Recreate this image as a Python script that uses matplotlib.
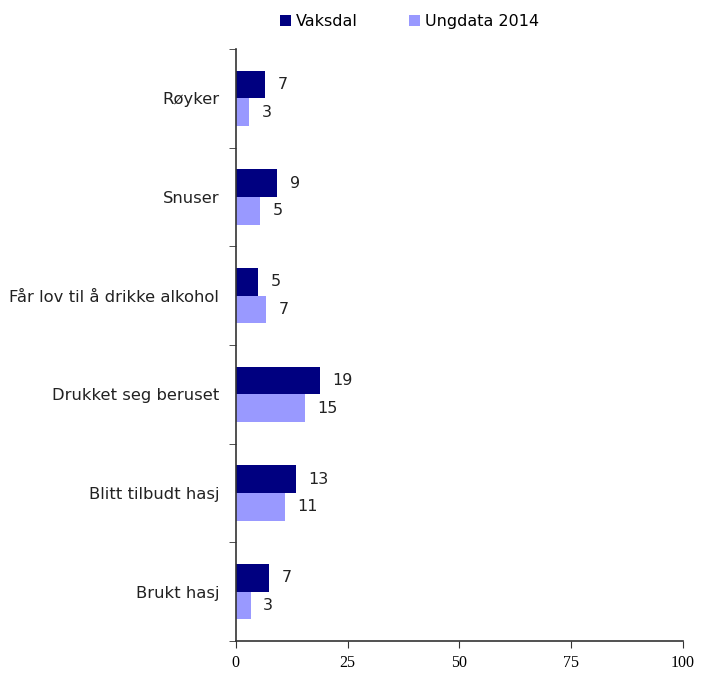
import matplotlib
matplotlib.use("Agg")
import matplotlib.pyplot as plt
import numpy as np

categories = ["Røyker", "Snuser", "Får lov til å drikke alkohol",
              "Drukket seg beruset", "Blitt tilbudt hasj", "Brukt hasj"]
vaksdal = [6.6, 9.2, 4.9, 18.8, 13.4, 7.4]
ungdata = [3.0, 5.4, 6.7, 15.4, 10.9, 3.3]
vaksdal_labels = ["7", "9", "5", "19", "13", "7"]
ungdata_labels = ["3", "5", "7", "15", "11", "3"]
xticks = [0, 25, 50, 75, 100]

dark = "#000080"
light = "#9999ff"

fig = plt.figure(figsize=(7.02, 6.73), dpi=100)
ax = fig.add_axes([0.336, 0.0475, 0.637, 0.8795])

y = np.arange(len(categories))
h = 0.28
ax.barh(y - h/2, vaksdal, height=h, color=dark, label="Vaksdal")
ax.barh(y + h/2, ungdata, height=h, color=light, label="Ungdata 2014")

for i in range(len(categories)):
    ax.annotate(vaksdal_labels[i], (vaksdal[i], y[i] - h/2), xytext=(9, 0),
                textcoords="offset points", va="center", ha="left", fontsize=11.5, color="#222222")
    ax.annotate(ungdata_labels[i], (ungdata[i], y[i] + h/2), xytext=(9, 0),
                textcoords="offset points", va="center", ha="left", fontsize=11.5, color="#222222")

ax.set_xlim(0, 100)
ax.set_ylim(len(categories) - 0.5, -0.5)
ax.set_xticks(xticks)
ax.set_xticklabels([str(t) for t in xticks], family="Liberation Serif", fontsize=11.5)
ax.set_yticks(y)
ax.set_yticklabels(categories, fontsize=11.8, color="#222222")
ax.set_yticks(np.arange(len(categories) + 1) - 0.5, minor=True)
ax.tick_params(axis="y", which="major", length=0, pad=12)
ax.tick_params(axis="y", which="minor", length=5, direction="out", color="#333333")
ax.tick_params(axis="x", length=5, direction="out", color="#333333", pad=5)

for s in ["top", "right"]:
    ax.spines[s].set_visible(False)
for s in ["left", "bottom"]:
    ax.spines[s].set_color("#333333")
    ax.spines[s].set_linewidth(1.2)

fig.legend(loc="upper left", bbox_to_anchor=(0.378, 1.0), ncol=2, frameon=False,
           fontsize=11.5, handlelength=0.7, handleheight=0.7, handletextpad=0.3,
           columnspacing=3.2)

fig.savefig("out.png", dpi=100)
